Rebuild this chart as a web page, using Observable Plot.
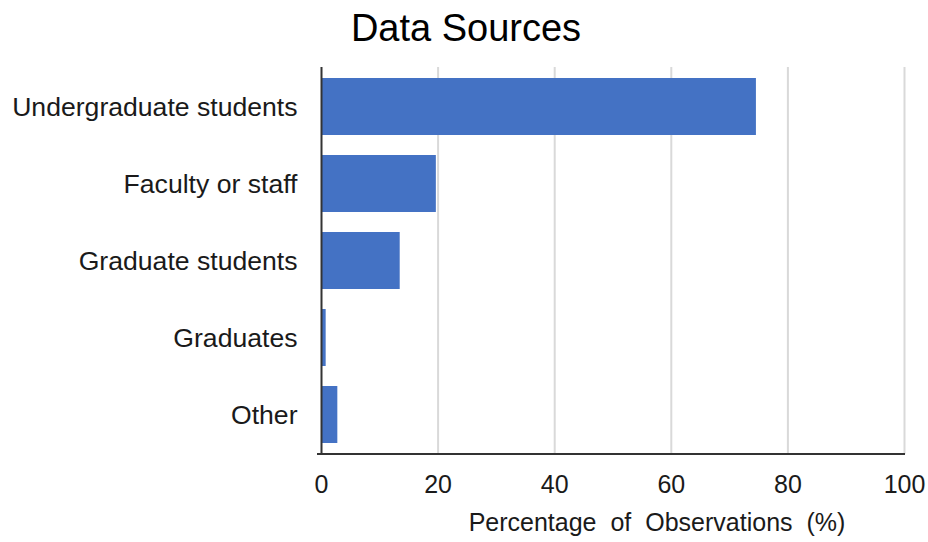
<!DOCTYPE html>
<html>
<head>
<meta charset="utf-8">
<script src="https://cdn.jsdelivr.net/npm/d3@7"></script>
<script src="https://cdn.jsdelivr.net/npm/@observablehq/plot@0.6"></script>
<style>
  html, body { margin: 0; padding: 0; background: #fff; }
  body { width: 928px; height: 542px; overflow: hidden; font-family: "Liberation Sans", Arial, sans-serif; }
  #title { height: 55px; line-height: 56px; text-align: center; font-size: 38px; color: #000; padding-left: 4px; }
</style>
</head>
<body>
<div id="title">Data Sources</div>
<div id="chart"></div>
<script>
const categories = ["Undergraduate students", "Faculty or staff", "Graduate students", "Graduates", "Other"];
const values = [74.6, 19.7, 13.5, 0.8, 2.8];
const xTicks = [0, 20, 40, 60, 80, 100];
const gridTicks = [20, 40, 60, 80, 100];
const xLabel = "Percentage of Observations (%)";

const data = categories.map((c, i) => ({category: c, value: values[i]}));

const H = 487, MB = 88;
const chart = Plot.plot({
  width: 928,
  height: H,
  marginLeft: 321,
  marginRight: 24,
  marginTop: 12,
  marginBottom: MB,
  style: {fontFamily: "'Liberation Sans', Arial, sans-serif", color: "#1a1a1a", background: "#fff"},
  x: {domain: [0, 100]},
  y: {domain: categories, paddingInner: 0.26, paddingOuter: 0.13},
  marks: [
    Plot.ruleX(gridTicks, {stroke: "#d9d9d9", strokeWidth: 2}),
    Plot.barX(data, {y: "category", x: "value", fill: "#4472c4"}),
    Plot.ruleX([0], {stroke: "#333", strokeWidth: 2}),
    Plot.axisX({ticks: xTicks, tickSize: 0, tickPadding: 21, fontSize: 25, label: null}),
    Plot.axisY({tickSize: 0, tickPadding: 24, fontSize: 26.6, label: null}),
    Plot.text([xLabel], {frameAnchor: "bottom", dy: 76, dx: 44, fontSize: 25, fill: "#1a1a1a", text: d => d})
  ]
});
// x-axis baseline from the x scale
const xs = chart.scale("x");
d3.select(chart).append("line")
  .attr("x1", xs.apply(0) - 4).attr("x2", xs.apply(100) + 1)
  .attr("y1", H - MB).attr("y2", H - MB)
  .attr("stroke", "#333").attr("stroke-width", 2);
d3.select(chart).selectAll("text").filter(function() { return this.textContent === xLabel; }).style("word-spacing", "7px");
document.getElementById("chart").appendChild(chart);
</script>
</body>
</html>
